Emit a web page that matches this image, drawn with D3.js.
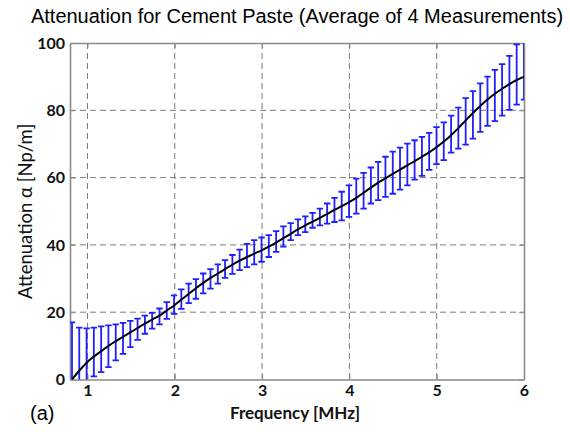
<!DOCTYPE html>
<html>
<head>
<meta charset="utf-8">
<script src="https://cdn.jsdelivr.net/npm/d3@7"></script>
<style>
  html, body { margin: 0; padding: 0; background: #fff; }
  svg { display: block; }
</style>
</head>
<body>
<svg id="chart" width="570" height="432"></svg>
<script>
// Measurement frequencies [MHz]
const frequency = [
  0.823, 0.906, 0.990, 1.073, 1.157, 1.240, 1.324, 1.407, 1.491, 1.574,
  1.658, 1.741, 1.825, 1.908, 1.992, 2.075, 2.159, 2.242, 2.326, 2.409,
  2.493, 2.576, 2.660, 2.743, 2.827, 2.910, 2.994, 3.077, 3.161, 3.244,
  3.328, 3.411, 3.495, 3.578, 3.662, 3.745, 3.829, 3.912, 3.996, 4.079,
  4.163, 4.246, 4.330, 4.413, 4.497, 4.580, 4.664, 4.747, 4.831, 4.914,
  4.998, 5.081, 5.165, 5.248, 5.332, 5.415, 5.499, 5.582, 5.666, 5.749,
  5.833, 5.916, 6.000
];

// Average attenuation of the 4 measurements [Np/m]
const meanAttenuation = [
  0.0, 2.6, 5.0, 6.8, 8.4, 10.0, 11.4, 12.7, 14.0, 15.3,
  16.6, 17.8, 19.0, 20.5, 22.0, 23.7, 25.4, 27.1, 28.7, 30.2,
  31.5, 32.8, 34.1, 35.3, 36.4, 37.4, 38.4, 39.5, 40.7, 42.0,
  43.3, 44.6, 45.8, 46.9, 48.0, 49.2, 50.4, 51.5, 52.7, 54.0,
  55.5, 57.0, 58.5, 59.8, 61.1, 62.4, 63.6, 64.9, 66.2, 67.5,
  69.0, 70.7, 72.6, 74.7, 77.0, 79.2, 81.3, 83.2, 84.9, 86.4,
  87.8, 89.0, 90.0
];

// Upper end of each error bar [Np/m]
const upperBound = [
  17.0, 15.4, 15.2, 15.4, 15.8, 16.1, 16.4, 16.8, 17.4, 18.1,
  19.0, 19.8, 21.1, 23.0, 25.0, 26.8, 28.5, 29.8, 31.5, 32.8,
  34.2, 35.5, 37.0, 38.6, 40.3, 41.4, 42.2, 42.9, 44.1, 45.5,
  46.5, 47.6, 48.5, 49.5, 50.8, 52.3, 54.0, 55.8, 57.7, 59.7,
  61.4, 63.0, 64.7, 66.2, 67.7, 68.9, 70.1, 71.1, 72.1, 73.3,
  75.0, 76.4, 78.4, 80.8, 83.6, 85.7, 88.0, 90.0, 92.0, 93.7,
  96.2, 99.6, 101.5
];

// Lower end of each error bar [Np/m]
const lowerBound = [
  -17.0, -10.2, -5.2, 0.9, 2.2, 3.7, 5.7, 7.6, 9.6, 11.8,
  13.6, 15.1, 16.4, 18.0, 19.5, 21.0, 22.7, 24.0, 25.6, 27.0,
  28.5, 30.2, 31.4, 32.5, 33.4, 34.2, 35.0, 36.4, 37.9, 39.5,
  41.4, 42.9, 43.8, 45.1, 45.8, 46.3, 46.8, 47.3, 48.3, 49.3,
  50.8, 52.3, 53.3, 54.3, 55.2, 56.4, 57.7, 59.4, 60.5, 62.3,
  64.0, 65.2, 67.4, 68.6, 69.8, 71.6, 73.6, 75.4, 76.8, 78.4,
  80.1, 81.7, 83.2
];

const xTicks = [1, 2, 3, 4, 5, 6];
const yTicks = [0, 20, 40, 60, 80, 100];

const titleText = "Attenuation for Cement Paste (Average of 4 Measurements)";
const xLabel = "Frequency [MHz]";
const yLabel = "Attenuation \u03b1 [Np/m]";
const panelLabel = "(a)";

const svg = d3.select("#chart");
const plot = { left: 70, right: 524, top: 43, bottom: 379.5 };

const x = d3.scaleLinear().domain([0.8, 6]).range([plot.left, plot.right]);
const y = d3.scaleLinear().domain([0, 100]).range([plot.bottom, plot.top]);

const frameColor = "#8a8a8a";
const gridColor = "#7a7a7a";
const barColor = "#1f1fff";

svg.append("defs").append("clipPath").attr("id", "plot-clip")
  .append("rect")
  .attr("x", plot.left).attr("y", plot.top)
  .attr("width", plot.right - plot.left)
  .attr("height", plot.bottom - plot.top);

// Dashed grid
const grid = svg.append("g");
grid.selectAll("line.gx").data(xTicks.filter(d => d < 6)).join("line")
  .attr("x1", d => x(d)).attr("x2", d => x(d))
  .attr("y1", plot.top).attr("y2", plot.bottom)
  .attr("stroke", gridColor).attr("stroke-width", 1)
  .attr("stroke-dasharray", "6,4");
grid.selectAll("line.gy").data(yTicks.filter(d => d > 0 && d < 100)).join("line")
  .attr("x1", plot.left).attr("x2", plot.right)
  .attr("y1", d => y(d)).attr("y2", d => y(d))
  .attr("stroke", gridColor).attr("stroke-width", 1)
  .attr("stroke-dasharray", "6,4");

// Axes (inward ticks, labels drawn by the axis generators)
const tickFont = "Lato, 'Open Sans', sans-serif";
const xAxis = svg.append("g")
  .attr("transform", `translate(0,${plot.bottom})`)
  .call(d3.axisBottom(x).tickValues(xTicks).tickSizeInner(-5).tickSizeOuter(0).tickPadding(5).tickFormat(d3.format("d")));
const yAxis = svg.append("g")
  .attr("transform", `translate(${plot.left},0)`)
  .call(d3.axisLeft(y).tickValues(yTicks).tickSizeInner(-5).tickSizeOuter(0).tickPadding(5).tickFormat(d3.format("d")));
const xAxisTop = svg.append("g")
  .attr("transform", `translate(0,${plot.top})`)
  .call(d3.axisTop(x).tickValues(xTicks).tickSizeInner(-5).tickSizeOuter(0).tickFormat(""));
const yAxisRight = svg.append("g")
  .attr("transform", `translate(${plot.right},0)`)
  .call(d3.axisRight(y).tickValues(yTicks).tickSizeInner(-5).tickSizeOuter(0).tickFormat(""));

[xAxis, yAxis, xAxisTop, yAxisRight].forEach(g => {
  g.select(".domain").attr("stroke", frameColor).attr("stroke-width", 1.6);
  g.selectAll(".tick line").attr("stroke", frameColor).attr("stroke-width", 1);
  g.selectAll(".tick text")
    .attr("fill", "#111")
    .style("font-family", tickFont)
    .style("font-size", "16px")
    .style("font-weight", "bold");
});

// Error bars and the mean curve
const data = frequency.map((f, i) => ({
  f, mean: meanAttenuation[i], hi: upperBound[i], lo: lowerBound[i]
}));

const marks = svg.append("g").attr("clip-path", "url(#plot-clip)");
const capHalf = 3.2;
const barWidth = 1.8;
const bars = marks.selectAll("g.bar").data(data).join("g").attr("class", "bar");
bars.append("line")
  .attr("x1", d => x(d.f)).attr("x2", d => x(d.f))
  .attr("y1", d => y(d.lo)).attr("y2", d => y(d.hi))
  .attr("stroke", barColor).attr("stroke-width", barWidth);
bars.append("line")
  .attr("x1", d => x(d.f) - capHalf).attr("x2", d => x(d.f) + capHalf)
  .attr("y1", d => y(d.hi)).attr("y2", d => y(d.hi))
  .attr("stroke", barColor).attr("stroke-width", barWidth);
bars.append("line")
  .attr("x1", d => x(d.f) - capHalf).attr("x2", d => x(d.f) + capHalf)
  .attr("y1", d => y(d.lo)).attr("y2", d => y(d.lo))
  .attr("stroke", barColor).attr("stroke-width", barWidth);

marks.append("path")
  .datum(data)
  .attr("fill", "none")
  .attr("stroke", "#000")
  .attr("stroke-width", 2)
  .attr("d", d3.line().x(d => x(d.f)).y(d => y(d.mean)).curve(d3.curveMonotoneX));

// Titles and labels
svg.append("text")
  .attr("x", 297).attr("y", 22.5)
  .attr("text-anchor", "middle")
  .style("font-family", "'Liberation Sans', Arial, sans-serif")
  .style("font-size", "20px")
  .attr("fill", "#000")
  .text(titleText);

svg.append("text")
  .attr("x", 295).attr("y", 419)
  .attr("text-anchor", "middle")
  .style("font-family", tickFont)
  .style("font-size", "17px")
  .style("font-weight", "bold")
  .attr("fill", "#111")
  .text(xLabel);

svg.append("text")
  .attr("transform", `translate(31.5,${(plot.top + plot.bottom) / 2}) rotate(-90)`)
  .attr("text-anchor", "middle")
  .style("font-family", tickFont)
  .style("font-size", "18.5px")
  .attr("fill", "#111")
  .text(yLabel);

svg.append("text")
  .attr("x", 30).attr("y", 420)
  .style("font-family", "'Liberation Sans', Arial, sans-serif")
  .style("font-size", "20px")
  .attr("fill", "#000")
  .text(panelLabel);
</script>
</body>
</html>
